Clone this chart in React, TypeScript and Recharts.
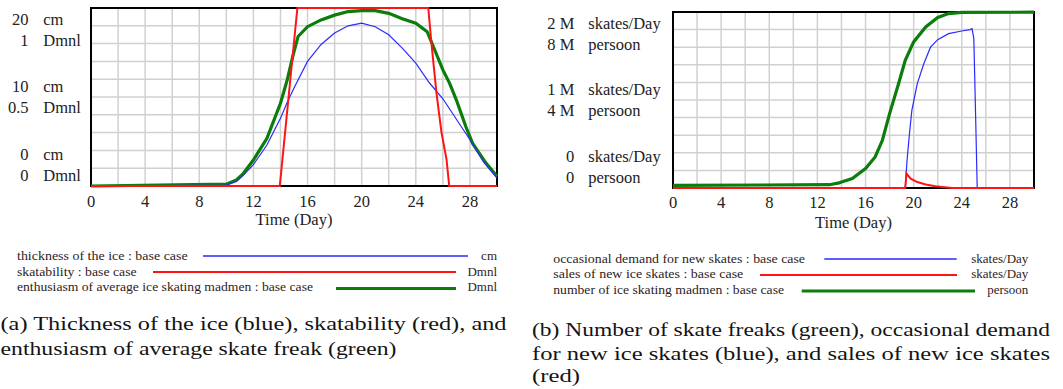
import React from 'react';
import { LineChart, Line, XAxis, YAxis, CartesianGrid, ReferenceArea } from 'recharts';

// (a) ice thickness, skatability, enthusiasm
const thicknessDays = [0, 10, 10.75, 11.25, 12, 13, 14, 14.5, 15, 16, 17, 18, 19, 20, 21, 22, 23, 24, 25, 26, 27, 28, 29, 30];
const thicknessCm = [0, 0.1, 0.5, 1.2, 2.4, 4.6, 7.6, 9.4, 11.0, 14.0, 15.9, 17.2, 18.0, 18.3, 17.9, 17.0, 15.5, 13.8, 11.6, 9.8, 7.5, 5.2, 2.7, 0.9];

const skatabilityDays = [0, 13.95, 15.25, 24.92, 25.16, 25.53, 25.9, 26.27, 26.47, 30];
const skatability = [0, 0, 1, 1, 0.8, 0.52, 0.3, 0.15, 0, 0];

const enthusiasmDays = [0, 10, 10.75, 11.25, 12, 13, 14, 14.5, 14.9, 15.3, 16, 17, 18, 19, 20, 21, 22, 23, 24, 24.84, 25.4, 26, 26.5, 27, 27.7, 28.2, 28.7, 29.2, 30];
const enthusiasm = [0, 0.01, 0.034, 0.07, 0.146, 0.268, 0.465, 0.596, 0.726, 0.84, 0.895, 0.933, 0.96, 0.98, 0.985, 0.985, 0.97, 0.94, 0.914, 0.867, 0.764, 0.652, 0.577, 0.483, 0.333, 0.239, 0.183, 0.127, 0.055];

// (b) madmen (millions of persoon), demand and sales (millions of skates/Day)
const madmenDays = [0, 13, 13.8, 14, 14.9, 16, 16.8, 17.4, 18, 18.75, 19.3, 20, 21, 22, 22.9, 24, 30];
const madmenM = [0.12, 0.15, 0.23, 0.27, 0.43, 0.88, 1.41, 2.17, 3.38, 4.75, 5.8, 6.64, 7.32, 7.75, 7.93, 7.98, 7.99];

const demandDays = [0, 19.3, 19.45, 19.65, 19.85, 20.3, 20.85, 21.4, 22, 22.9, 24, 24.7, 24.85, 25.0, 25.15, 25.28, 30];
const demandM = [0, 0, 0.315, 0.618, 0.883, 1.186, 1.414, 1.6, 1.686, 1.754, 1.784, 1.8, 1.81, 1.7, 0.81, 0, 0];

const salesDays = [0, 19.3, 19.4, 19.75, 20.3, 21, 21.8, 22.6, 23.2, 30];
const salesM = [0, 0, 0.164, 0.107, 0.068, 0.039, 0.019, 0.008, 0, 0];

// ticks
const dayTicks = [0, 2, 4, 6, 8, 10, 12, 14, 16, 18, 20, 22, 24, 26, 28, 30];
const cmTicks = [0, 2, 4, 6, 8, 10, 12, 14, 16, 18, 20];
const rateTicks = [0, 0.2, 0.4, 0.6, 0.8, 1, 1.2, 1.4, 1.6, 1.8, 2];
const cmMajor = [0, 10, 20];
const cmLabels = ['0', '10', '20'];
const dmnlLabels = ['0', '0.5', '1'];
const rateMajor = [0, 1, 2];
const rateLabels = ['0', '1 M', '2 M'];
const persoonLabels = ['0', '4 M', '8 M'];

const toPoints = (days: number[], vals: number[]) => days.map((t, i) => ({ t, v: vals[i] }));

const FONT = '"Liberation Serif", "Tinos", "Times New Roman", "DejaVu Serif", serif';
const TXT = '#222';
const BLUE = '#2a2aff';
const RED = '#ff1414';
const GREEN = '#0b7d0b';

const T = ({ size, fill, children, ...rest }: any) => (
  <text {...rest} fill={fill || TXT} style={{ fontFamily: FONT, fontSize: size }}>{children}</text>
);

const PairTick = (props: any) => {
  const { y, payload, major, top, bottom, unitTop, unitBottom, numX, unitX } = props;
  const i = major.indexOf(payload.value);
  if (i < 0) return <g />;
  const shift = i === 0 ? -21.5 : i === major.length - 1 ? 21.5 : 0;
  const c = y + shift;
  return (
    <g>
      <T size={16.5} x={numX} y={c - 10.5} dy="0.35em" textAnchor="end">{top[i]}</T>
      <T size={16.5} x={unitX} y={c - 10.5} dy="0.35em" textAnchor="start">{unitTop}</T>
      <T size={16.5} x={numX} y={c + 10.5} dy="0.35em" textAnchor="end">{bottom[i]}</T>
      <T size={16.5} x={unitX} y={c + 10.5} dy="0.35em" textAnchor="start">{unitBottom}</T>
    </g>
  );
};

const DayTick = (props: any) => {
  const { x, y, payload, off } = props;
  if (payload.value % 4 !== 0 || payload.value >= 30) return <g />;
  return (
    <T size={16.5} x={x} y={y + off} dy="0.35em" textAnchor="middle">{payload.value}</T>
  );
};

const AxisTitle = (props: any) => {
  const { viewBox, baseline } = props;
  if (!viewBox) return null;
  return (
    <T size={16.5} x={viewBox.x + viewBox.width / 2} y={viewBox.y + baseline} textAnchor="middle">Time (Day)</T>
  );
};

const ChartA = () => (
  <LineChart width={520} height={240} margin={{ top: 8, right: 23, left: 0, bottom: 0 }}>
    <CartesianGrid yAxisId="cm" stroke="#d0d0d0" strokeWidth={1.5} />
    <XAxis
      dataKey="t" type="number" domain={[0, 30]} ticks={dayTicks} interval={0}
      height={54} tickSize={0} tickMargin={0} axisLine={false} tickLine={false}
      tick={(p: any) => <DayTick {...p} off={15} />}
      label={<AxisTitle baseline={39} />}
    />
    <YAxis
      yAxisId="cm" type="number" domain={[0, 20]} ticks={cmTicks} interval={0}
      width={91} tickSize={0} tickMargin={0} axisLine={false} tickLine={false}
      tick={(p: any) => (
        <PairTick {...p} major={cmMajor} top={cmLabels} bottom={dmnlLabels}
          unitTop="cm" unitBottom="Dmnl" numX={28.5} unitX={43.3} />
      )}
    />
    <YAxis yAxisId="dmnl" type="number" domain={[0, 1]} hide />
    <ReferenceArea yAxisId="cm" x1={0} x2={30} y1={0} y2={20} fill="none" stroke="#000" strokeWidth={2} />
    <Line yAxisId="dmnl" data={toPoints(enthusiasmDays, enthusiasm)} dataKey="v" type="linear"
      stroke={GREEN} strokeWidth={3.2} dot={false} isAnimationActive={false} />
    <Line yAxisId="cm" data={toPoints(thicknessDays, thicknessCm)} dataKey="v" type="linear"
      stroke={BLUE} strokeWidth={1.2} dot={false} isAnimationActive={false} />
    <Line yAxisId="dmnl" data={toPoints(skatabilityDays, skatability)} dataKey="v" type="linear"
      stroke={RED} strokeWidth={2} dot={false} isAnimationActive={false} />
  </LineChart>
);

const ChartB = () => (
  <LineChart width={543} height={240} margin={{ top: 12, right: 29, left: 0, bottom: 0 }}>
    <CartesianGrid yAxisId="rate" stroke="#d0d0d0" strokeWidth={1.5} />
    <XAxis
      dataKey="t" type="number" domain={[0, 30]} ticks={dayTicks} interval={0}
      height={52} tickSize={0} tickMargin={0} axisLine={false} tickLine={false}
      tick={(p: any) => <DayTick {...p} off={14} />}
      label={<AxisTitle baseline={40} />}
    />
    <YAxis
      yAxisId="rate" type="number" domain={[0, 2]} ticks={rateTicks} interval={0}
      width={153} tickSize={0} tickMargin={0} axisLine={false} tickLine={false}
      tick={(p: any) => (
        <PairTick {...p} major={rateMajor} top={rateLabels} bottom={persoonLabels}
          unitTop="skates/Day" unitBottom="persoon" numX={54.3} unitX={68.3} />
      )}
    />
    <YAxis yAxisId="persoon" type="number" domain={[0, 8]} hide />
    <ReferenceArea yAxisId="rate" x1={0} x2={30} y1={0} y2={2} fill="none" stroke="#000" strokeWidth={2} />
    <Line yAxisId="persoon" data={toPoints(madmenDays, madmenM)} dataKey="v" type="linear"
      stroke={GREEN} strokeWidth={3.2} dot={false} isAnimationActive={false} />
    <Line yAxisId="rate" data={toPoints(demandDays, demandM)} dataKey="v" type="linear"
      stroke={BLUE} strokeWidth={1.2} dot={false} isAnimationActive={false} />
    <Line yAxisId="rate" data={toPoints(salesDays, salesM)} dataKey="v" type="linear"
      stroke={RED} strokeWidth={2} dot={false} isAnimationActive={false} />
  </LineChart>
);

const LEG = '#2e1c1c';
const CAP = '#141414';

const Overlay = () => (
  <svg width={1063} height={389} style={{ position: 'absolute', left: 0, top: 0, pointerEvents: 'none' }}>
    {/* legend (a) */}
    <T size={13} fill={LEG} x={17} y={260} textLength={170.7} lengthAdjust="spacingAndGlyphs">thickness of the ice : base case</T>
    <T size={13} fill={LEG} x={17} y={275.7} textLength={119.7} lengthAdjust="spacingAndGlyphs">skatability : base case</T>
    <T size={13} fill={LEG} x={17} y={291} textLength={296} lengthAdjust="spacingAndGlyphs">enthusiasm of average ice skating madmen : base case</T>
    <T size={13} fill={LEG} x={497} y={260} textAnchor="end">cm</T>
    <T size={13} fill={LEG} x={497} y={275.7} textAnchor="end">Dmnl</T>
    <T size={13} fill={LEG} x={497} y={291} textAnchor="end">Dmnl</T>
    <line x1={203} x2={468} y1={256} y2={256} stroke={BLUE} strokeWidth={1.3} />
    <line x1={153} x2={456} y1={272} y2={272} stroke={RED} strokeWidth={2} />
    <line x1={336} x2={456} y1={288.5} y2={288.5} stroke={GREEN} strokeWidth={3.2} />

    {/* legend (b) */}
    <T size={13} fill={LEG} x={553.3} y={262.7} textLength={251.7} lengthAdjust="spacingAndGlyphs">occasional demand for new skates : base case</T>
    <T size={13} fill={LEG} x={553.3} y={278.3} textLength={190} lengthAdjust="spacingAndGlyphs">sales of new ice skates : base case</T>
    <T size={13} fill={LEG} x={553.3} y={294.3} textLength={230.7} lengthAdjust="spacingAndGlyphs">number of ice skating madmen : base case</T>
    <T size={13} fill={LEG} x={1028.3} y={262.7} textAnchor="end">skates/Day</T>
    <T size={13} fill={LEG} x={1028.3} y={278.3} textAnchor="end">skates/Day</T>
    <T size={13} fill={LEG} x={1028.3} y={294.3} textAnchor="end">persoon</T>
    <line x1={824.3} x2={956.7} y1={259} y2={259} stroke={BLUE} strokeWidth={1.3} />
    <line x1={760} x2={957} y1={275} y2={275} stroke={RED} strokeWidth={2} />
    <line x1={801.7} x2={975} y1={291} y2={291} stroke={GREEN} strokeWidth={3.2} />

    {/* captions */}
    <T size={18.5} fill={CAP} x={0.5} y={330} textLength={506} lengthAdjust="spacingAndGlyphs">(a) Thickness of the ice (blue), skatability (red), and</T>
    <T size={18.5} fill={CAP} x={0.5} y={354.5} textLength={396} lengthAdjust="spacingAndGlyphs">enthusiasm of average skate freak (green)</T>
    <T size={18.5} fill={CAP} x={532} y={335.5} textLength={518} lengthAdjust="spacingAndGlyphs">(b) Number of skate freaks (green), occasional demand</T>
    <T size={18.5} fill={CAP} x={532} y={359.5} textLength={518} lengthAdjust="spacingAndGlyphs">for new ice skates (blue), and sales of new ice skates</T>
    <T size={18.5} fill={CAP} x={532} y={382} textLength={48} lengthAdjust="spacingAndGlyphs">(red)</T>
  </svg>
);

export default function App() {
  return (
    <div style={{ position: 'absolute', left: 0, top: 0, width: 1063, height: 389, overflow: 'hidden', background: '#fff', fontFamily: FONT }}>
      <div style={{ position: 'absolute', left: 0, top: 0 }}>
        <ChartA />
      </div>
      <div style={{ position: 'absolute', left: 520, top: 0 }}>
        <ChartB />
      </div>
      <Overlay />
    </div>
  );
}
